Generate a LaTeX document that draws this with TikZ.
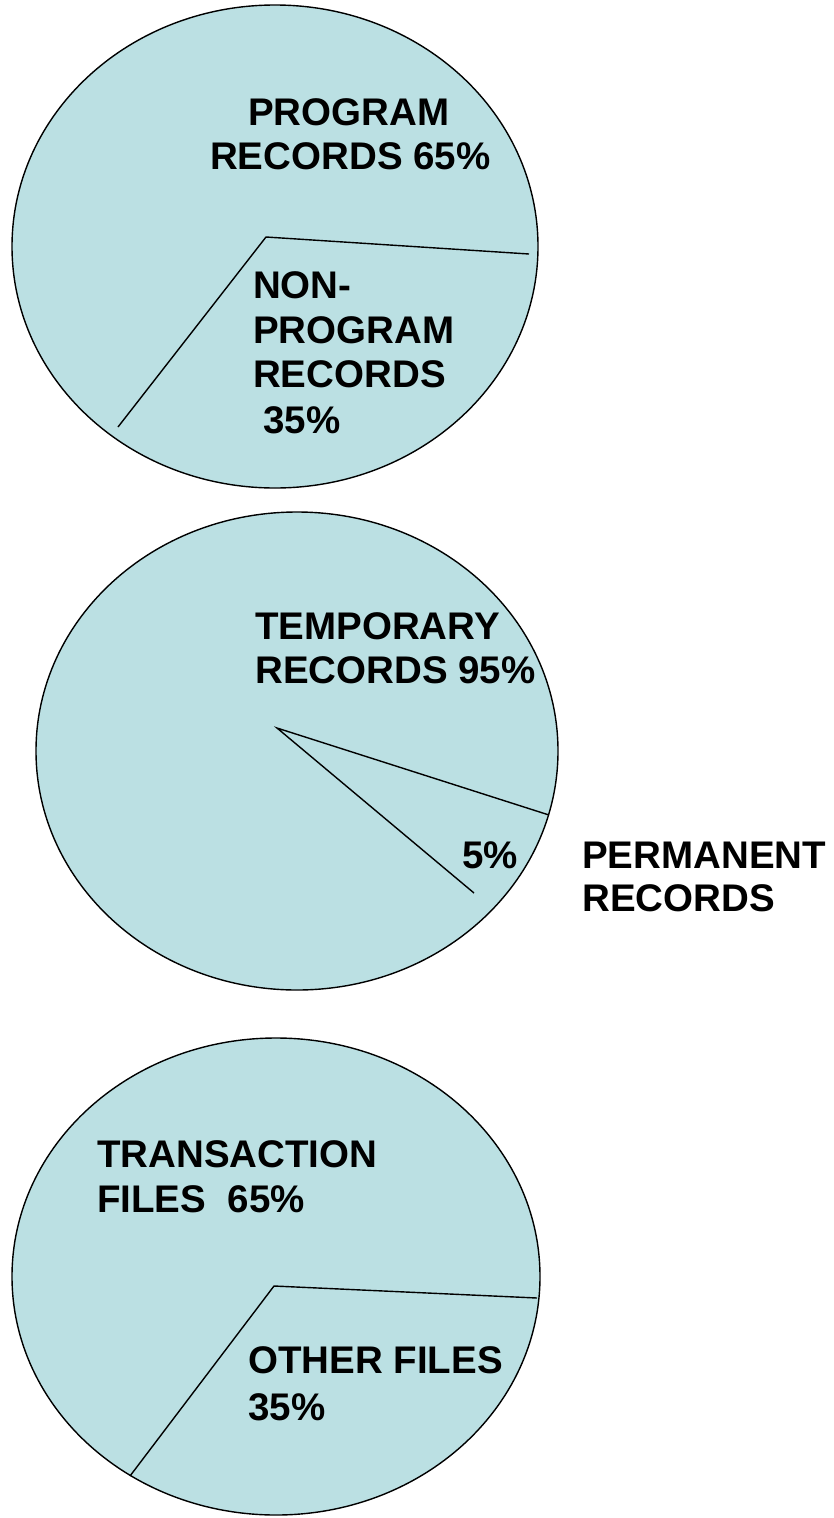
\documentclass[tikz,border=0pt]{standalone}
\usepackage{fontspec}
\setmainfont{Liberation Sans}
\definecolor{piefill}{RGB}{187,224,227}
\begin{document}
\begin{tikzpicture}[x=1pt,y=-1pt,
  pie/.style={draw=black,line width=1.4pt,fill=piefill},
  slice/.style={draw=black,line width=1.4pt},
  lbl/.style={anchor=base west,inner sep=0pt,font=\fontsize{38.5}{44.5}\selectfont\bfseries}]
\useasboundingbox (0,0) rectangle (834,1518);
% pie 1
\draw[pie] (275,246.5) ellipse [x radius=263, y radius=241.5];
\coordinate (c1) at (266,237);
\coordinate (a1) at (529,254);
\coordinate (b1) at (118,427);
\draw[slice] (a1) -- (c1) -- (b1);
\node[lbl] (p1l1) at (248,125) {PROGRAM};
\node[lbl] (p1l2) at (210,169) {RECORDS 65\%};
\node[lbl] (n1l1) at (253,298) {NON-};
\node[lbl] (n1l2) at (253,343) {PROGRAM};
\node[lbl] (n1l3) at (253,387) {RECORDS};
\node[lbl] (n1l4) at (263,433) {35\%};
% pie 2
\draw[pie] (297,751) ellipse [x radius=261, y radius=239];
\coordinate (c2) at (277,728);
\coordinate (a2) at (549,815);
\coordinate (b2) at (474,893);
\draw[slice] (a2) -- (c2) -- (b2);
\node[lbl] (t2l1) at (255,639) {TEMPORARY};
\node[lbl] (t2l2) at (255,683) {RECORDS 95\%};
\node[lbl] (f2) at (462,868) {5\%};
\node[lbl] (pr1) at (582,868) {PERMANENT};
\node[lbl] (pr2) at (582,911) {RECORDS};
% pie 3
\draw[pie] (276,1276.5) ellipse [x radius=264, y radius=238.5];
\coordinate (c3) at (274,1286);
\coordinate (a3) at (537,1298);
\coordinate (b3) at (130,1476);
\draw[slice] (a3) -- (c3) -- (b3);
\node[lbl] (t3l1) at (97,1167) {TRANSACTION};
\node[lbl] (t3l2) at (97,1212) {FILES\ \ 65\%};
\node[lbl] (o3l1) at (248,1373) {OTHER FILES};
\node[lbl] (o3l2) at (248,1420) {35\%};
\end{tikzpicture}
\end{document}
